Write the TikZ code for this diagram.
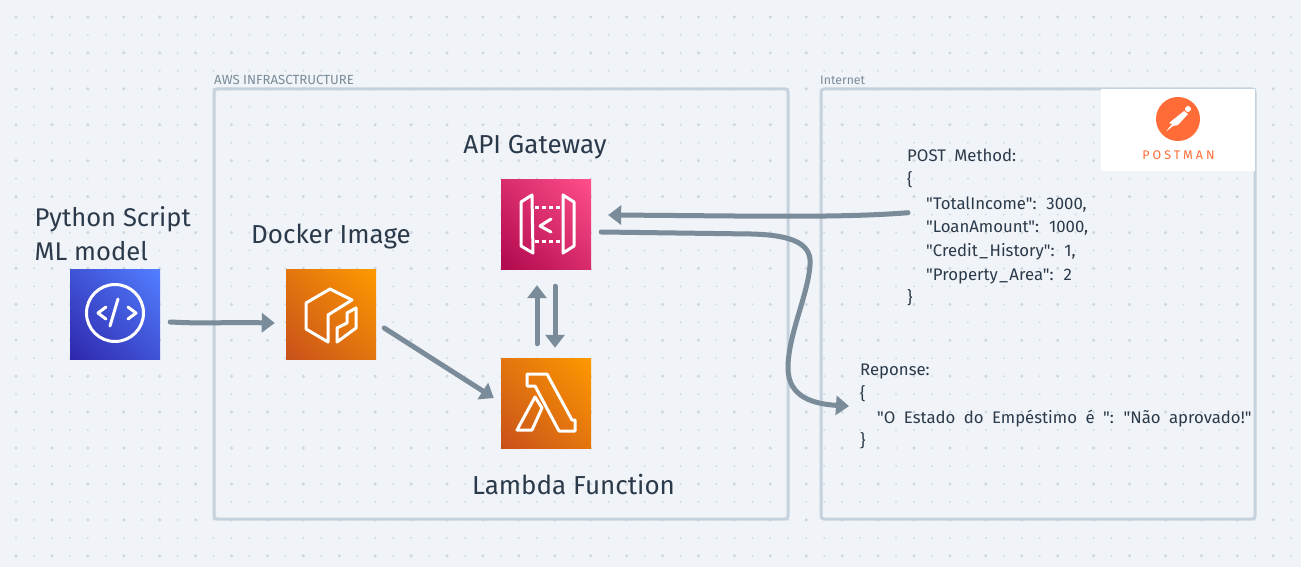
\documentclass[tikz,border=0pt]{standalone}
\usepackage{fontspec}
\setmainfont{Fira Sans}[Ligatures=TeXOff]
\newfontfamily\bodyfont{Fira Sans}[Ligatures=TeXOff,Scale=1.003,WordSpace=1.9]
\usetikzlibrary{arrows.meta}
\definecolor{bgpaper}{HTML}{F0F3F7}
\definecolor{griddot}{HTML}{CDD7E1}
\definecolor{framecol}{HTML}{C5D1DC}
\definecolor{flowcol}{HTML}{7A8B99}
\definecolor{inkcol}{HTML}{2B3A4A}
\definecolor{postcol}{HTML}{FF6C37}
\definecolor{blueA}{HTML}{2E27AD}
\definecolor{blueB}{HTML}{527FFF}
\definecolor{orangeA}{HTML}{C8511B}
\definecolor{orangeB}{HTML}{FF9900}
\definecolor{pinkA}{HTML}{B0084D}
\definecolor{pinkB}{HTML}{FF4F8B}
\pgfdeclarehorizontalshading{blueicon}{100bp}{color(0bp)=(blueA); color(14.6bp)=(blueA); color(85.4bp)=(blueB); color(100bp)=(blueB)}
\pgfdeclarehorizontalshading{orangeicon}{100bp}{color(0bp)=(orangeA); color(14.6bp)=(orangeA); color(85.4bp)=(orangeB); color(100bp)=(orangeB)}
\pgfdeclarehorizontalshading{pinkicon}{100bp}{color(0bp)=(pinkA); color(14.6bp)=(pinkA); color(85.4bp)=(pinkB); color(100bp)=(pinkB)}
\newcommand{\usc}{\kern1.5pt\_\kern1.5pt}
\tikzset{
	iconbox/.style={minimum size=90pt,inner sep=0pt,shade,shading=#1,shading angle=45},
	glyph/.style={draw=white,line width=3pt,line join=round,line cap=round},
	flow/.style={draw=flowcol,line width=5pt,line cap=round,-{Triangle[length=13pt,width=19pt]}},
	frame/.style={draw=framecol,line width=3pt,rounded corners=3pt},
	title/.style={inner sep=0pt,text=inkcol,font=\fontsize{26}{34}\selectfont,align=left},
	smalltitle/.style={inner sep=0pt,anchor=west,text=flowcol},
	bodytext/.style={inner sep=0pt,anchor=north west,text=inkcol,align=left,font=\bodyfont\fontsize{16.7}{23.7}\selectfont}
}
\begin{document}
\begin{tikzpicture}[x=1pt,y=-1pt]
	\useasboundingbox (0,0) rectangle (1301,567);
	\fill[bgpaper] (0,0) rectangle (1301,567);
	\foreach \i in {0,...,71}
		\foreach \j in {0,...,30}{
			\pgfmathsetmacro{\dotsize}{(iseven(\i) && iseven(\j)) ? 1.7 : 1}
			\fill[griddot] ({16+17.96*\i},{17+17.96*\j}) circle (\dotsize pt);
		}
	\node[frame,minimum width=574pt,minimum height=430pt] (awsframe) at (501,304) {};
	\node[frame,minimum width=434pt,minimum height=430pt] (netframe) at (1038,304) {};
	\node[smalltitle,font=\fontsize{13.2}{15}\selectfont] (awslabel) at (214,80) {AWS INFRASCTRUCTURE};
	\node[smalltitle,font=\fontsize{12.3}{15}\selectfont] (netlabel) at (820,80) {Internet};
	\node[fill=white,minimum width=154pt,minimum height=82pt,inner sep=0pt] (postbox) at (1178,130) {};
	\node[circle,fill=postcol,minimum size=44pt,inner sep=0pt] (postlogo) at (1178,119) {};
	\node[inner sep=0pt,text=postcol,font=\fontsize{12.5}{15}\selectfont\addfontfeature{LetterSpace=24}] (postname) at (1178.5,155) {POSTMAN};
	\begin{scope}[shift={(postlogo.center)}]
		\fill[white] (10,-10) circle (3pt);
		\fill[white] (6,-8) -- (10,-5) -- (0,6) -- (-5,7) -- (-12,12.5) -- (-6,5) -- (-9,4) -- cycle;
	\end{scope}
	\node[iconbox=blueicon] (pyicon) at (115,314) {};
	\node[iconbox=orangeicon] (dockericon) at (331,314) {};
	\node[iconbox=pinkicon] (apiicon) at (546,224) {};
	\node[iconbox=orangeicon] (lambdaicon) at (546,403) {};
	\node[title,anchor=west,font=\fontsize{25.6}{34}\selectfont] (pylabel) at (34.5,234) {Python Script\\ML model};
	\node[title] (dockerlabel) at (331,237) {Docker Image};
	\node[title] (apilabel) at (535,147) {API Gateway};
	\node[title] (lambdalabel) at (573.5,485) {Lambda Function};
	\begin{scope}[shift={(pyicon.center)}]
		\draw[glyph] (0,-1) circle (28.5pt);
		\draw[glyph] (-9,-7) -- (-17,-1) -- (-9,5);
		\draw[glyph] (13,-7) -- (21,-1) -- (13,5);
		\draw[glyph] (3,-15) -- (-5,12);
	\end{scope}
	\begin{scope}[shift={(dockericon.center)}]
		\draw[glyph] (21,-14) -- (-1,-25) -- (-25,-11) -- (-25,15) -- (-3,28) -- (-3,1) -- cycle;
		\draw[glyph] (25,-6) -- (25,14) -- (6,28) -- (6,14) -- (16,9) -- (16,-1) -- cycle;
	\end{scope}
	\begin{scope}[shift={(apiicon.center)}]
		\draw[glyph] (-14,-29) -- (-25,-22) -- (-25,22) -- (-13,29) -- cycle;
		\draw[glyph] (17,-29) -- (28,-22) -- (28,22) -- (17,29) -- cycle;
		\draw[glyph,line cap=butt,dash pattern=on 4pt off 3pt] (-11,-17) -- (16,-17);
		\draw[glyph,line cap=butt,dash pattern=on 4pt off 3pt] (-11,17) -- (16,17);
		\draw[glyph] (5,-5) -- (-6,2) -- (5,8);
	\end{scope}
	\begin{scope}[shift={(lambdaicon.center)}]
		\draw[glyph] (-19,-29) -- (1,-29) -- (26,17) -- (29,17) -- (29,28) -- (13,28) -- (-11,-17) -- (-19,-17) -- cycle;
		\draw[glyph] (-11,-6) -- (-4,5) -- (-14,27) -- (-29,27) -- cycle;
	\end{scope}
	\node[bodytext] (postbody) at (907,149) {POST Method:\\\{\\\hspace*{19pt}"TotalIncome": 3000,\\\hspace*{19pt}"LoanAmount": 1000,\\\hspace*{19pt}"Credit\usc History": 1,\\\hspace*{19pt}"Property\usc Area": 2\\\}};
	\node[bodytext] (respbody) at (860,364) {Reponse:\\\{\\\hspace*{17pt}"O Estado do Empéstimo é ": "Não aprovado!"\\\}};
	\draw[flow] ([shift={(10,8)}]pyicon.east) .. controls +(40,2) and +(-60,-1) .. ([shift={(-11,9)}]dockericon.west);
	\draw[flow] ([shift={(8,14)}]dockericon.east) -- ([shift={(-7,-5)}]lambdaicon.west);
	\draw[flow] ([shift={(-9,-14)}]lambdaicon.north) -- ([shift={(-9,16)}]apiicon.south);
	\draw[flow] ([shift={(9,17)}]apiicon.south) -- ([shift={(9,-10)}]lambdaicon.north);
	\draw[flow] ([shift={(1,-15)}]postbody.west) .. controls (840,218) and (760,216) .. ([shift={(17,-9)}]apiicon.east);
	\draw[flow] ([shift={(10,8)}]apiicon.east) -- ++(150,2) .. controls (795,235) and (812,245) .. (810,265) .. controls (808,295) and (788,335) .. (788,368) .. controls (788,398) and (815,404) .. ([shift={(-11,-0.5)}]respbody.west);
\end{tikzpicture}
\end{document}
